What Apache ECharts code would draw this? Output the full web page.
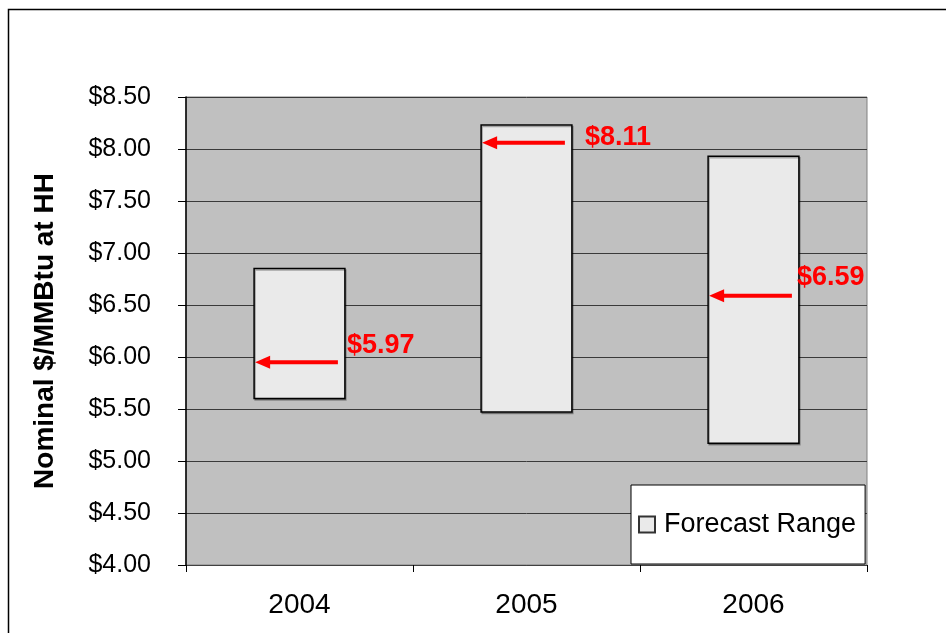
<!DOCTYPE html>
<html>
<head>
<meta charset="utf-8">
<script src="https://cdn.jsdelivr.net/npm/echarts@6/dist/echarts.min.js"></script>
<style>
    html, body { margin: 0; padding: 0; background: #fff; }
    #main { width: 946px; height: 633px; }
</style>
</head>
<body>
<div id="main"></div>
<script>
// data
var years = ['2004', '2005', '2006'];
var rangeLow = [5.60, 5.47, 5.17];
var rangeHigh = [6.85, 8.23, 7.93];
var arrowLevel = [5.95, 8.06, 6.59];      // where the red arrows point
var forecastValue = [5.97, 8.11, 6.59];   // red labels
var yTicks = [4.0, 4.5, 5.0, 5.5, 6.0, 6.5, 7.0, 7.5, 8.0, 8.5];

var FONT = 'Liberation Sans, Arial, sans-serif';
// label nudge next to each arrow [dx from bar right, dy from arrow]
var labelShift = [[2, -17], [13, -5], [-2, -18]];

var chart = echarts.init(document.getElementById('main'));

var option = {
    backgroundColor: '#fff',
    animation: false,
    grid: {
        left: 186,
        top: 97,
        right: 79,
        bottom: 68,
        show: true,
        backgroundColor: '#c0c0c0',
        borderColor: '#808080',
        borderWidth: 1
    },
    legend: {
        left: 631,
        top: 485,
        orient: 'vertical',
        backgroundColor: '#fff',
        borderColor: '#000',
        borderWidth: 1,
        borderRadius: 0,
        padding: [26, 9, 26, 7],
        icon: 'rect',
        itemWidth: 16,
        itemHeight: 16,
        itemGap: 0,
        textStyle: {fontFamily: FONT, fontSize: 27, color: '#000', padding: [0, 0, 0, 4]},
        data: ['Forecast Range']
    },
    xAxis: {
        type: 'category',
        data: years,
        boundaryGap: true,
        axisLine: {show: true, lineStyle: {color: '#404040', width: 1}},
        axisTick: {show: true, length: 7, interval: 0, lineStyle: {color: '#000'}},
        axisLabel: {fontFamily: FONT, fontSize: 28, color: '#000', margin: 26},
        splitLine: {show: false}
    },
    yAxis: {
        type: 'value',
        min: yTicks[0],
        max: yTicks[yTicks.length - 1],
        interval: 0.5,
        name: 'Nominal $/MMBtu at HH',
        nameLocation: 'middle',
        nameRotate: 90,
        nameGap: 127,
        nameTextStyle: {fontFamily: FONT, fontSize: 28, fontWeight: 'bold', color: '#000'},
        axisLine: {show: true, lineStyle: {color: '#000', width: 1.5}},
        axisTick: {show: true, length: 8, lineStyle: {color: '#000'}},
        axisLabel: {
            fontFamily: FONT, fontSize: 25, color: '#000', margin: 35,
            formatter: function (v) { return '$' + v.toFixed(2); }
        },
        splitLine: {show: true, lineStyle: {color: '#3a3a3a', width: 1}}
    },
    graphic: [{
        type: 'rect',
        silent: true,
        z: -1,
        shape: {x: 8.5, y: 9.5, width: 1000, height: 700},
        style: {fill: 'none', stroke: '#000', lineWidth: 1.5}
    }],
    series: [
        {
            name: 'Forecast Range',
            type: 'custom',
            itemStyle: {color: '#eaeaea', borderColor: '#333', borderWidth: 1},
            encode: {x: 0, y: [1, 2]},
            data: years.map(function (y, i) { return [i, rangeLow[i], rangeHigh[i]]; }),
            renderItem: function (params, api) {
                var i = api.value(0);
                var lo = api.coord([i, api.value(1)]);
                var hi = api.coord([i, api.value(2)]);
                var w = api.size([1, 0])[0] * 0.4;
                return {
                    type: 'rect',
                    shape: {x: lo[0] - w / 2, y: hi[1], width: w, height: lo[1] - hi[1]},
                    style: {
                        fill: '#eaeaea', stroke: '#000', lineWidth: 1.5,
                        shadowColor: 'rgba(0,0,0,0.3)', shadowOffsetX: 1, shadowOffsetY: 1.5
                    }
                };
            }
        },
        {
            name: 'Forecast',
            type: 'custom',
            z: 5,
            encode: {x: 0, y: 1},
            data: years.map(function (y, i) { return [i, arrowLevel[i], forecastValue[i]]; }),
            renderItem: function (params, api) {
                var i = api.value(0);
                var p = api.coord([i, api.value(1)]);
                var w = api.size([1, 0])[0] * 0.4;
                var tip = p[0] - w / 2 + 1;
                var tail = p[0] + w / 2 - 7;
                var y = p[1];
                var s = labelShift[params.dataIndex];
                return {
                    type: 'group',
                    children: [
                        {
                            type: 'line',
                            shape: {x1: tail, y1: y, x2: tip + 12, y2: y},
                            style: {stroke: '#ff0000', lineWidth: 4}
                        },
                        {
                            type: 'polygon',
                            shape: {points: [[tip, y], [tip + 15, y - 6.5], [tip + 15, y + 6.5]]},
                            style: {fill: '#ff0000'}
                        },
                        {
                            type: 'text',
                            x: p[0] + w / 2 + s[0],
                            y: y + s[1],
                            style: {
                                text: '$' + api.value(2).toFixed(2),
                                font: 'bold 27px ' + FONT,
                                fill: '#ff0000',
                                align: 'left',
                                verticalAlign: 'middle'
                            }
                        }
                    ]
                };
            }
        }
    ]
};

chart.setOption(option);
</script>
</body>
</html>
